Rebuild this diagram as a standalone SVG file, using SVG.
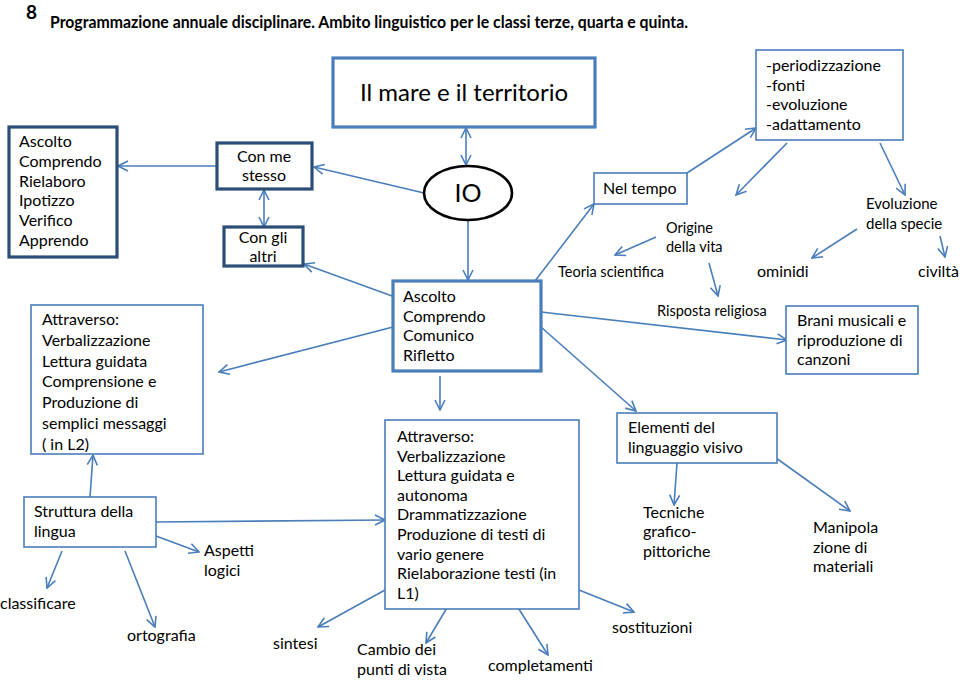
<svg xmlns="http://www.w3.org/2000/svg" width="960" height="681" viewBox="0 0 960 681">
<defs>
<marker id="arr" viewBox="0 0 12 12" refX="11" refY="6" markerWidth="12" markerHeight="12" markerUnits="userSpaceOnUse" orient="auto-start-reverse">
<path d="M1,1 L11,6 L1,11" fill="none" stroke="#4A7EBB" stroke-width="1.6"/>
</marker>
<style>
text{font-family:Lato,"Liberation Sans",sans-serif;fill:#000;font-size:16px}
.s14{font-size:14.5px}
.thin{fill:#fff;stroke:#4A7EBB;stroke-width:1.6}
.thick{fill:#fff;stroke:#4A7EBB;stroke-width:3.2}
.dark{fill:#fff;stroke:#2C4D75;stroke-width:3.2}
.c line{stroke:#4A7EBB;stroke-width:1.6;marker-end:url(#arr)}
.c line.both{marker-start:url(#arr)}
.mid{text-anchor:middle}
</style>
</defs>
<rect width="960" height="681" fill="#fff"/>
<g id="title">
<text x="26" y="19" style="font-size:19px;font-weight:bold">8</text>
<text x="50" y="28" style="font-size:17.5px;font-weight:bold" textLength="638" lengthAdjust="spacingAndGlyphs">Programmazione annuale disciplinare. Ambito linguistico per le classi terze, quarta e quinta.</text>
</g>
<g class="c">
<line class="both" x1="466" y1="128" x2="466" y2="165"/>
<line x1="424" y1="193" x2="314" y2="167"/>
<line x1="217" y1="166" x2="118" y2="166"/>
<line class="both" x1="264" y1="190" x2="264" y2="227"/>
<line x1="392" y1="296" x2="304" y2="264"/>
<line x1="468" y1="221" x2="468" y2="280"/>
<line x1="393" y1="327" x2="219" y2="372"/>
<line x1="440" y1="376" x2="440" y2="410"/>
<line x1="535" y1="281" x2="594" y2="204"/>
<line x1="687" y1="173" x2="756" y2="128"/>
<line x1="787" y1="143" x2="736" y2="195"/>
<line x1="880" y1="143" x2="905" y2="195"/>
<line x1="656" y1="237" x2="615" y2="255"/>
<line x1="709" y1="263" x2="718" y2="296"/>
<line x1="857" y1="229" x2="812" y2="258"/>
<line x1="940" y1="236" x2="945" y2="257"/>
<line x1="541" y1="312" x2="787" y2="340"/>
<line x1="541" y1="327" x2="636" y2="411"/>
<line x1="677" y1="463" x2="674" y2="505"/>
<line x1="776" y1="458" x2="850" y2="511"/>
<line x1="90" y1="497" x2="93" y2="455"/>
<line x1="156" y1="522" x2="385" y2="520"/>
<line x1="156" y1="536" x2="199" y2="552"/>
<line x1="62" y1="551" x2="47" y2="588"/>
<line x1="125" y1="551" x2="155" y2="627"/>
<line x1="385" y1="590" x2="318" y2="627"/>
<line x1="448" y1="606" x2="426" y2="643"/>
<line x1="517" y1="606" x2="548" y2="655"/>
<line x1="579" y1="590" x2="634" y2="612"/>
</g>
<g id="mare">
<rect class="thick" x="333" y="58" width="262" height="69"/>
<text class="mid" x="464" y="101" style="font-size:24px">Il mare e il territorio</text>
</g>
<g id="io">
<ellipse cx="468" cy="193" rx="44" ry="27" fill="#fff" stroke="#000" stroke-width="2.6"/>
<text class="mid" x="468" y="202" style="font-size:25px">IO</text>
</g>
<g id="ascolto-left">
<rect class="dark" x="9" y="127" width="108" height="130"/>
<text x="19" y="147">Ascolto</text>
<text x="19" y="167">Comprendo</text>
<text x="19" y="187">Rielaboro</text>
<text x="19" y="206">Ipotizzo</text>
<text x="19" y="226">Verifico</text>
<text x="19" y="246">Apprendo</text>
</g>
<g id="con-me">
<rect class="dark" x="217" y="143" width="95" height="46"/>
<text class="mid" x="264" y="162">Con me</text>
<text class="mid" x="264" y="181">stesso</text>
</g>
<g id="con-gli">
<rect class="dark" x="224" y="227" width="79" height="39"/>
<text class="mid" x="263" y="243">Con gli</text>
<text class="mid" x="263" y="262">altri</text>
</g>
<g id="ascolto-mid">
<rect class="thick" x="393" y="281" width="148" height="90"/>
<text x="403" y="302">Ascolto</text>
<text x="403" y="322">Comprendo</text>
<text x="403" y="341">Comunico</text>
<text x="403" y="361">Rifletto</text>
</g>
<g id="attraverso-left">
<rect class="thin" x="31" y="305" width="172" height="149"/>
<text x="42" y="325">Attraverso:</text>
<text x="42" y="346">Verbalizzazione</text>
<text x="42" y="367">Lettura guidata</text>
<text x="42" y="387">Comprensione e</text>
<text x="42" y="408">Produzione di</text>
<text x="42" y="429">semplici messaggi</text>
<text x="42" y="450">( in L2)</text>
</g>
<g id="struttura">
<rect class="thin" x="24" y="497" width="132" height="50"/>
<text x="34" y="517">Struttura della</text>
<text x="34" y="537">lingua</text>
</g>
<g id="aspetti"><text x="204" y="556">Aspetti</text><text x="204" y="576">logici</text></g>
<g id="classificare"><text x="0" y="609">classificare</text></g>
<g id="ortografia"><text x="127" y="641">ortografia</text></g>
<g id="sintesi"><text x="273" y="649">sintesi</text></g>
<g id="attraverso-bottom">
<rect class="thin" x="385" y="420" width="194" height="189"/>
<text x="397" y="442">Attraverso:</text>
<text x="397" y="462">Verbalizzazione</text>
<text x="397" y="481">Lettura guidata e</text>
<text x="397" y="501">autonoma</text>
<text x="397" y="520">Drammatizzazione</text>
<text x="397" y="540">Produzione di testi di</text>
<text x="397" y="560">vario genere</text>
<text x="397" y="579">Rielaborazione testi (in</text>
<text x="397" y="599">L1)</text>
</g>
<g id="cambio"><text x="357" y="655">Cambio dei</text><text x="357" y="675">punti di vista</text></g>
<g id="completamenti"><text x="488" y="671">completamenti</text></g>
<g id="sostituzioni"><text x="612" y="633">sostituzioni</text></g>
<g id="elementi">
<rect class="thin" x="617" y="413" width="160" height="50"/>
<text x="628" y="433">Elementi del</text>
<text x="628" y="453">linguaggio visivo</text>
</g>
<g id="tecniche"><text x="643" y="518">Tecniche</text><text x="643" y="537">grafico-</text><text x="643" y="557">pittoriche</text></g>
<g id="manipola"><text x="813" y="533">Manipola</text><text x="813" y="553">zione di</text><text x="813" y="572">materiali</text></g>
<g id="brani">
<rect class="thin" x="786" y="306" width="132" height="68"/>
<text x="797" y="326">Brani musicali e</text>
<text x="797" y="346">riproduzione di</text>
<text x="797" y="365">canzoni</text>
</g>
<g id="nel-tempo">
<rect class="thin" x="594" y="173" width="93" height="31"/>
<text x="603" y="194">Nel tempo</text>
</g>
<g id="periodizzazione">
<rect class="thin" x="756" y="50" width="147" height="90"/>
<text x="766" y="71">-periodizzazione</text>
<text x="766" y="91">-fonti</text>
<text x="766" y="110">-evoluzione</text>
<text x="766" y="130">-adattamento</text>
</g>
<g id="origine"><text x="666" y="233" class="s14">Origine</text><text x="666" y="252" class="s14">della vita</text></g>
<g id="teoria"><text x="558" y="277" class="s14">Teoria scientifica</text></g>
<g id="risposta"><text x="657" y="316" class="s14">Risposta religiosa</text></g>
<g id="evoluzione"><text x="866" y="209" style="font-size:15px">Evoluzione</text><text x="866" y="229" style="font-size:15px">della specie</text></g>
<g id="ominidi"><text x="757" y="277">ominidi</text></g>
<g id="civilta"><text x="918" y="277">civiltà</text></g>
</svg>
